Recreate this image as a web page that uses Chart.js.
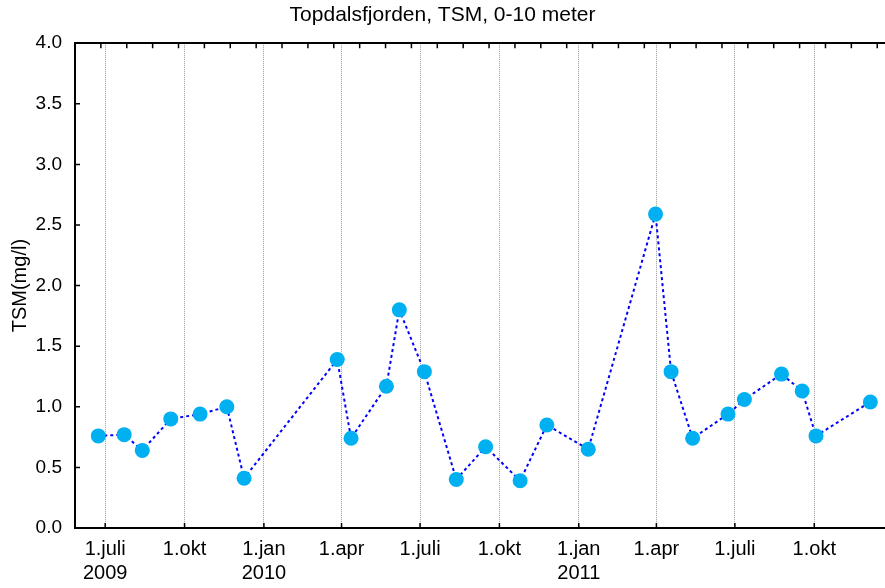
<!DOCTYPE html>
<html>
<head>
<meta charset="utf-8">
<script src="https://cdn.jsdelivr.net/npm/chart.js@4.4.1/dist/chart.umd.min.js"></script>
<style>
  body { margin: 0; background: #fff; overflow: hidden; }
  #wrap { width: 885px; height: 588px; }
</style>
</head>
<body>
<div id="wrap"><canvas id="chart"></canvas></div>
<script>
// sampling dates and TSM values (mg/l)
const dates = ['2009-06-23', '2009-07-23', '2009-08-13', '2009-09-15', '2009-10-19', '2009-11-19', '2009-12-09',
  '2010-03-27', '2010-04-12', '2010-05-23', '2010-06-07', '2010-07-06', '2010-08-12', '2010-09-15', '2010-10-25',
  '2010-11-25', '2011-01-12', '2011-03-31', '2011-04-18', '2011-05-13', '2011-06-23', '2011-07-12', '2011-08-24',
  '2011-09-17', '2011-10-03', '2011-12-05'];
const tsm = [0.76, 0.77, 0.64, 0.90, 0.94, 1.00, 0.41,
  1.39, 0.74, 1.17, 1.80, 1.29, 0.40, 0.67, 0.39,
  0.85, 0.65, 2.59, 1.29, 0.74, 0.94, 1.06, 1.27,
  1.13, 0.76, 1.04];

// x axis ticks (quarters)
const tickDates = ['2009-07-01', '2009-10-01', '2010-01-01', '2010-04-01', '2010-07-01',
  '2010-10-01', '2011-01-01', '2011-04-01', '2011-07-01', '2011-10-01'];
const tickLabels = [['1.juli', '2009'], '1.okt', ['1.jan', '2010'], '1.apr', '1.juli',
  '1.okt', ['1.jan', '2011'], '1.apr', '1.juli', '1.okt'];
const xStart = '2009-05-27';
const xEnd = '2011-12-22';
const topTickStep = 30; // days between the small ticks on the top axis

const fontType = '"Liberation Sans", Arial, sans-serif';

function day(s) {
  let p = s.split('-');
  return Date.UTC(+p[0], +p[1] - 1, +p[2]) / 86400000;
}

const xMin = day(xStart);
const xMax = day(xEnd);

// ticks pointing into the plot area
const innerTicks = {
  id: 'innerTicks',
  beforeDatasetsDraw(chart) {
    const { ctx, chartArea: a, scales } = chart;
    ctx.save();
    ctx.strokeStyle = '#000';
    ctx.lineWidth = 1.5;
    ctx.beginPath();
    scales.y.ticks.forEach((t) => {
      let p = scales.y.getPixelForValue(t.value);
      ctx.moveTo(a.left, p);
      ctx.lineTo(a.left + 5, p);
    });
    scales.x.ticks.forEach((t) => {
      let p = scales.x.getPixelForValue(t.value);
      ctx.moveTo(p, a.bottom);
      ctx.lineTo(p, a.bottom - 5);
    });
    scales.x2.ticks.forEach((t) => {
      let p = scales.x2.getPixelForValue(t.value);
      ctx.moveTo(p, a.top);
      ctx.lineTo(p, a.top + 5);
    });
    ctx.stroke();
    ctx.restore();
  }
};

window.addEventListener('DOMContentLoaded', () => {
  let e = document.querySelector('#chart');
  new Chart(e, {
    type: 'line',
    data: {
      datasets: [
        {
          label: 'TSM',
          data: dates.map((d, i) => ({ x: day(d), y: tsm[i] })),
          borderColor: '#0000ff',
          borderWidth: 2,
          borderDash: [3, 3],
          pointRadius: 7.5,
          pointHoverRadius: 7.5,
          pointBackgroundColor: '#00b0f0',
          pointBorderWidth: 0,
          tension: 0,
          fill: false
        }
      ]
    },
    options: {
      responsive: true,
      maintainAspectRatio: false,
      animation: false,
      layout: { padding: 0, autoPadding: false },
      plugins: {
        legend: { display: false },
        tooltip: { enabled: false },
        title: {
          display: true,
          text: 'Topdalsfjorden, TSM, 0-10 meter',
          color: '#000',
          font: { family: fontType, size: 21, weight: 'normal' },
          padding: { top: 3, bottom: 15 }
        }
      },
      scales: {
        x: {
          type: 'linear',
          position: 'bottom',
          min: xMin,
          max: xMax,
          afterBuildTicks: (s) => {
            s.ticks = tickDates.map((d) => ({ value: day(d) }));
          },
          afterFit: (s) => {
            s.height = 60;
            s.paddingLeft = 0;
            s.paddingRight = 0;
          },
          grid: { display: true, drawTicks: false, color: '#999', lineWidth: 1 },
          border: { display: true, color: '#000', width: 2, dash: [1, 1] },
          ticks: {
            color: '#000',
            font: { family: fontType, size: 20 },
            padding: 9,
            maxRotation: 0,
            autoSkip: false,
            callback: (v, i) => tickLabels[i]
          }
        },
        x2: {
          type: 'linear',
          position: 'top',
          min: xMin,
          max: xMax,
          afterBuildTicks: (s) => {
            let t = [];
            for (let v = xMin; v <= xMax; v += topTickStep) t.push({ value: v });
            s.ticks = t;
          },
          afterFit: (s) => {
            s.height = 0;
            s.paddingLeft = 0;
            s.paddingRight = 0;
          },
          grid: { display: false, drawTicks: false },
          border: { display: true, color: '#000', width: 2 },
          ticks: { display: false }
        },
        y: {
          min: 0,
          max: 4,
          afterFit: (s) => {
            s.width = 75;
            s.paddingTop = 0;
            s.paddingBottom = 0;
          },
          grid: { display: false, drawTicks: false },
          border: { display: true, color: '#000', width: 2 },
          title: {
            display: true,
            text: 'TSM(mg/l)',
            color: '#000',
            font: { family: fontType, size: 20 },
            padding: { top: 8, bottom: 0 }
          },
          ticks: {
            stepSize: 0.5,
            color: '#000',
            font: { family: fontType, size: 19 },
            padding: 13,
            callback: (v) => v.toFixed(1)
          }
        }
      }
    },
    plugins: [innerTicks]
  });
});
</script>
</body>
</html>
